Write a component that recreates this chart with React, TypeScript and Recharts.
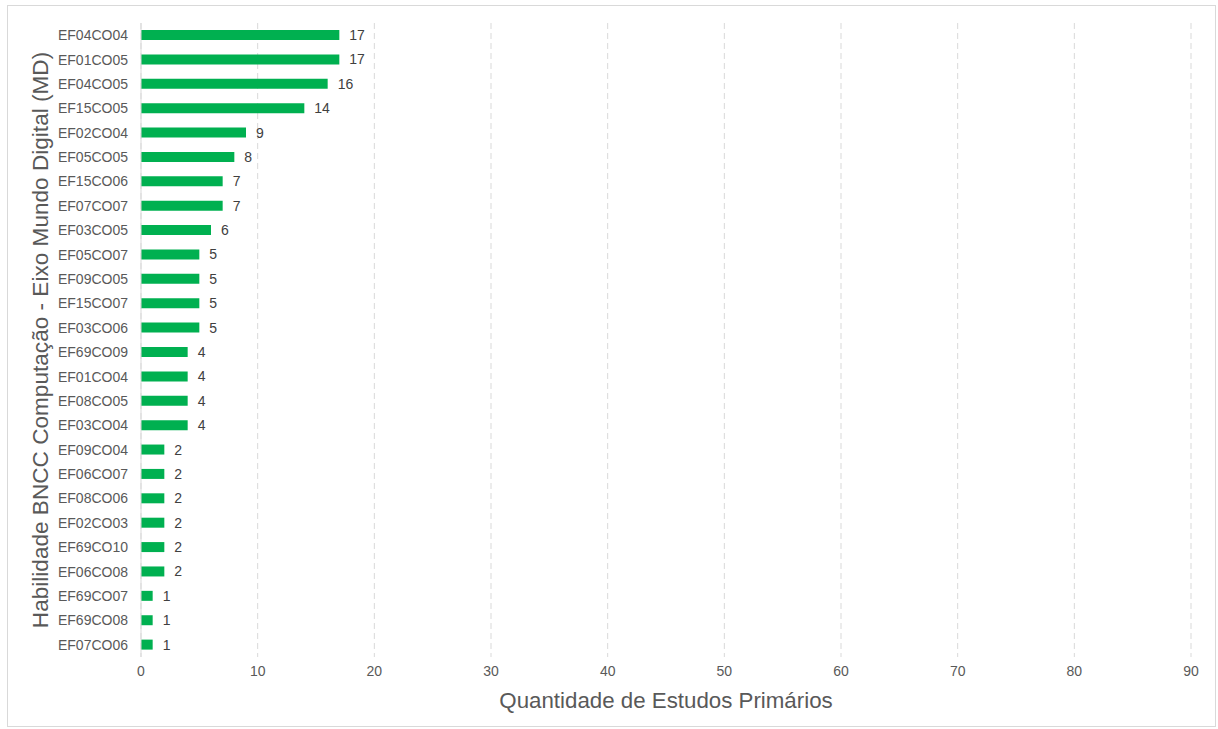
import React from "react";
import { BarChart, Bar, XAxis, YAxis, CartesianGrid, LabelList, Label } from "recharts";

const categories = [
  "EF04CO04", "EF01CO05", "EF04CO05", "EF15CO05", "EF02CO04", "EF05CO05", "EF15CO06",
  "EF07CO07", "EF03CO05", "EF05CO07", "EF09CO05", "EF15CO07", "EF03CO06", "EF69CO09",
  "EF01CO04", "EF08CO05", "EF03CO04", "EF09CO04", "EF06CO07", "EF08CO06", "EF02CO03",
  "EF69CO10", "EF06CO08", "EF69CO07", "EF69CO08", "EF07CO06",
];
const values = [17, 17, 16, 14, 9, 8, 7, 7, 6, 5, 5, 5, 5, 4, 4, 4, 4, 2, 2, 2, 2, 2, 2, 1, 1, 1];
const xTicks = [0, 10, 20, 30, 40, 50, 60, 70, 80, 90];
const xTitle = "Quantidade de Estudos Primários";
const yTitle = "Habilidade BNCC Computação - Eixo Mundo Digital (MD)";

const data = categories.map((c, i) => ({ name: c, value: values[i] }));

const FONT = "'Liberation Sans', Arial, sans-serif";

export default function App() {
  return (
    <div style={{ position: "absolute", left: 0, top: 0, width: 1218, height: 729, background: "#fff" }}>
      <div
        style={{
          position: "absolute",
          left: 7,
          top: 5,
          width: 1209,
          height: 722,
          border: "1px solid #d9d9d9",
          boxSizing: "border-box",
        }}
      />
      <div style={{ position: "absolute", left: 0, top: 0 }}>
        <BarChart
          width={1218}
          height={729}
          data={data}
          layout="vertical"
          margin={{ top: 23, right: 27, left: 0, bottom: 12 }}
          barSize={10}
          style={{ fontFamily: FONT }}
        >
          <CartesianGrid horizontal={false} stroke="#d9d9d9" strokeDasharray="6 4" />
          <XAxis
            type="number"
            domain={[0, 90]}
            ticks={xTicks}
            axisLine={false}
            tickLine={false}
            tickSize={6}
            tickMargin={3}
            height={60}
            tick={{ fill: "#595959", fontSize: 14, fontFamily: FONT }}
          >
            <Label
              content={({ viewBox }: any) => (
                <text
                  x={viewBox.x + viewBox.width / 2}
                  y={700}
                  textAnchor="middle"
                  dominantBaseline="central"
                  fill="#595959"
                  fontSize={22.3}
                  fontFamily={FONT}
                >
                  {xTitle}
                </text>
              )}
            />
          </XAxis>
          <YAxis
            type="category"
            dataKey="name"
            width={141}
            axisLine={{ stroke: "#d9d9d9" }}
            tickLine={false}
            tickSize={6}
            tickMargin={7}
            interval={0}
            tick={{ fill: "#595959", fontSize: 14, fontFamily: FONT }}
          >
            <Label
              content={({ viewBox }: any) => {
                const cy = viewBox.y + viewBox.height / 2;
                return (
                  <text
                    x={40}
                    y={cy}
                    transform={`rotate(-90, 40, ${cy})`}
                    textAnchor="middle"
                    dominantBaseline="central"
                    fill="#595959"
                    fontSize={22.6}
                    fontFamily={FONT}
                  >
                    {yTitle}
                  </text>
                );
              }}
            />
          </YAxis>
          <Bar dataKey="value" fill="#00B050" isAnimationActive={false}>
            <LabelList
              dataKey="value"
              position="right"
              offset={10}
              style={{ fill: "#404040", fontSize: 14, fontFamily: FONT }}
            />
          </Bar>
        </BarChart>
      </div>
    </div>
  );
}
